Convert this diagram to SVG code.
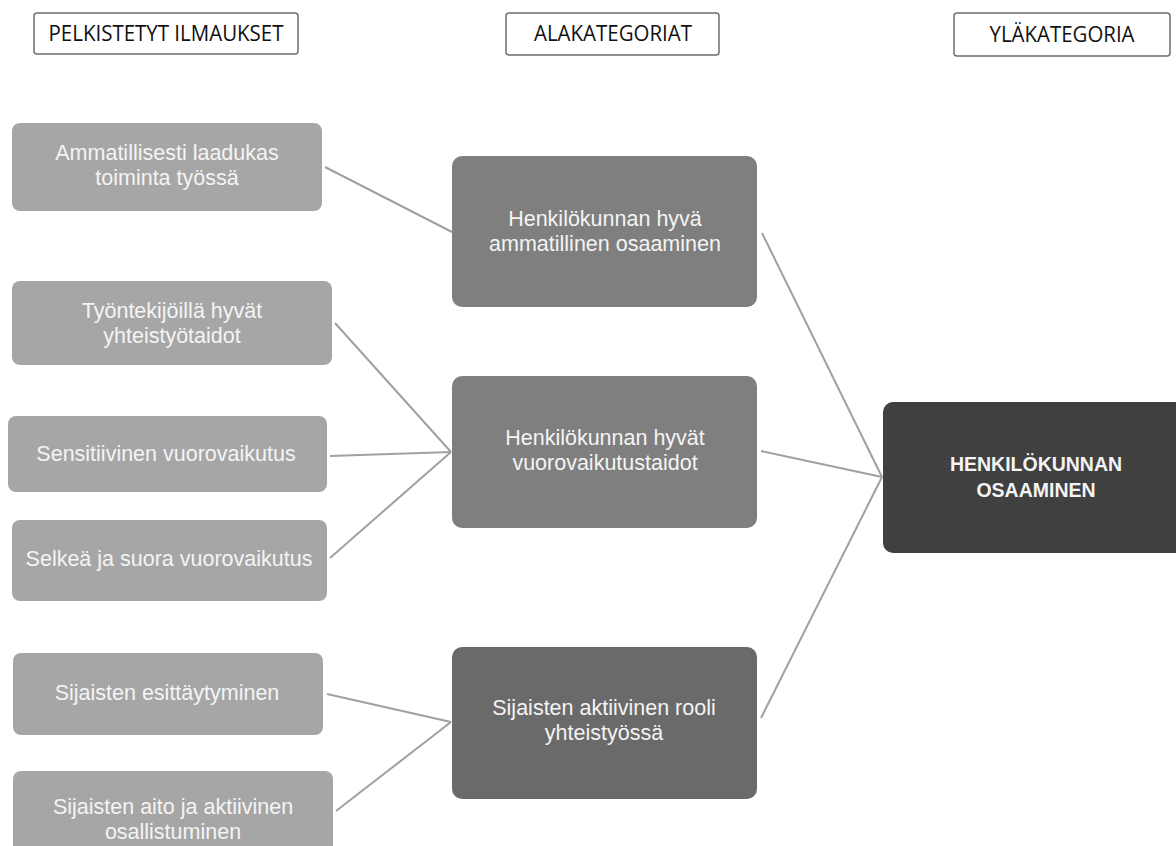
<svg xmlns="http://www.w3.org/2000/svg" width="1176" height="846" viewBox="0 0 1176 846">
<style>
.hdr{fill:#ffffff;stroke:#6e6e6e;stroke-width:1.5}
.hdrt{font-family:"Open Sans","Liberation Sans",sans-serif;font-size:21px;fill:#111111;text-anchor:middle}
.lv1{fill:#a6a6a6}
.lv2{fill:#7f7f7f}
.lv3{fill:#6a6a6a}
.lv4{fill:#404040}
.t{font-family:"Liberation Sans",Arial,sans-serif;font-size:21.5px;fill:#f4f4f4;text-anchor:middle}
.tb{font-family:"Liberation Sans",Arial,sans-serif;font-size:19.5px;font-weight:bold;fill:#f4f4f4;text-anchor:middle}
.c{stroke:#a0a0a0;stroke-width:2;fill:none}
</style>
<rect width="1176" height="846" fill="#ffffff"/>
<g id="header-pelkistetyt">
<rect class="hdr" x="34" y="13" width="264" height="41" rx="3"/>
<text class="hdrt" x="166" y="41" textLength="235" lengthAdjust="spacingAndGlyphs">PELKISTETYT ILMAUKSET</text>
</g>
<g id="header-alakategoriat">
<rect class="hdr" x="506" y="13" width="213" height="42" rx="3"/>
<text class="hdrt" x="613" y="41" textLength="158" lengthAdjust="spacingAndGlyphs">ALAKATEGORIAT</text>
</g>
<g id="header-ylakategoria">
<rect class="hdr" x="954" y="13" width="216" height="43" rx="3"/>
<text class="hdrt" x="1062" y="42" textLength="145" lengthAdjust="spacingAndGlyphs">YLÄKATEGORIA</text>
</g>
<g id="connectors">
<line class="c" x1="325" y1="167" x2="452" y2="232"/>
<line class="c" x1="335" y1="323" x2="451" y2="452"/>
<line class="c" x1="330" y1="456" x2="451" y2="452"/>
<line class="c" x1="330" y1="558" x2="451" y2="452"/>
<line class="c" x1="327" y1="694" x2="451" y2="722"/>
<line class="c" x1="336" y1="811" x2="451" y2="722"/>
<line class="c" x1="762" y1="233" x2="882" y2="477"/>
<line class="c" x1="761" y1="451" x2="882" y2="477"/>
<line class="c" x1="761" y1="718" x2="882" y2="477"/>
</g>
<g id="n-ammatillisesti">
<rect class="lv1" x="12" y="123" width="310" height="88" rx="8"/>
<text class="t" x="167" y="160">Ammatillisesti laadukas</text>
<text class="t" x="167" y="185">toiminta työssä</text>
</g>
<g id="n-tyontekijoilla">
<rect class="lv1" x="12" y="281" width="320" height="84" rx="8"/>
<text class="t" x="172" y="318">Työntekijöillä hyvät</text>
<text class="t" x="172" y="343">yhteistyötaidot</text>
</g>
<g id="n-sensitiivinen">
<rect class="lv1" x="8" y="416" width="319" height="76" rx="8"/>
<text class="t" x="166" y="461">Sensitiivinen vuorovaikutus</text>
</g>
<g id="n-selkea">
<rect class="lv1" x="12" y="520" width="315" height="81" rx="8"/>
<text class="t" x="169" y="566">Selkeä ja suora vuorovaikutus</text>
</g>
<g id="n-esittaytyminen">
<rect class="lv1" x="13" y="653" width="310" height="82" rx="8"/>
<text class="t" x="167" y="700">Sijaisten esittäytyminen</text>
</g>
<g id="n-aito">
<rect class="lv1" x="13" y="771" width="320" height="90" rx="8"/>
<text class="t" x="173" y="814">Sijaisten aito ja aktiivinen</text>
<text class="t" x="173" y="839">osallistuminen</text>
</g>
<g id="n-ammatillinen-osaaminen">
<rect class="lv2" x="452" y="156" width="305" height="151" rx="10"/>
<text class="t" x="605" y="226">Henkilökunnan hyvä</text>
<text class="t" x="605" y="251">ammatillinen osaaminen</text>
</g>
<g id="n-vuorovaikutustaidot">
<rect class="lv2" x="452" y="376" width="305" height="152" rx="10"/>
<text class="t" x="605" y="445">Henkilökunnan hyvät</text>
<text class="t" x="605" y="470">vuorovaikutustaidot</text>
</g>
<g id="n-sijaisten-rooli">
<rect class="lv3" x="452" y="647" width="305" height="152" rx="10"/>
<text class="t" x="604" y="715">Sijaisten aktiivinen rooli</text>
<text class="t" x="604" y="740">yhteistyössä</text>
</g>
<g id="n-henkilokunnan-osaaminen">
<rect class="lv4" x="883" y="402" width="310" height="151" rx="10"/>
<text class="tb" x="1036" y="471">HENKILÖKUNNAN</text>
<text class="tb" x="1036" y="497">OSAAMINEN</text>
</g>
</svg>
